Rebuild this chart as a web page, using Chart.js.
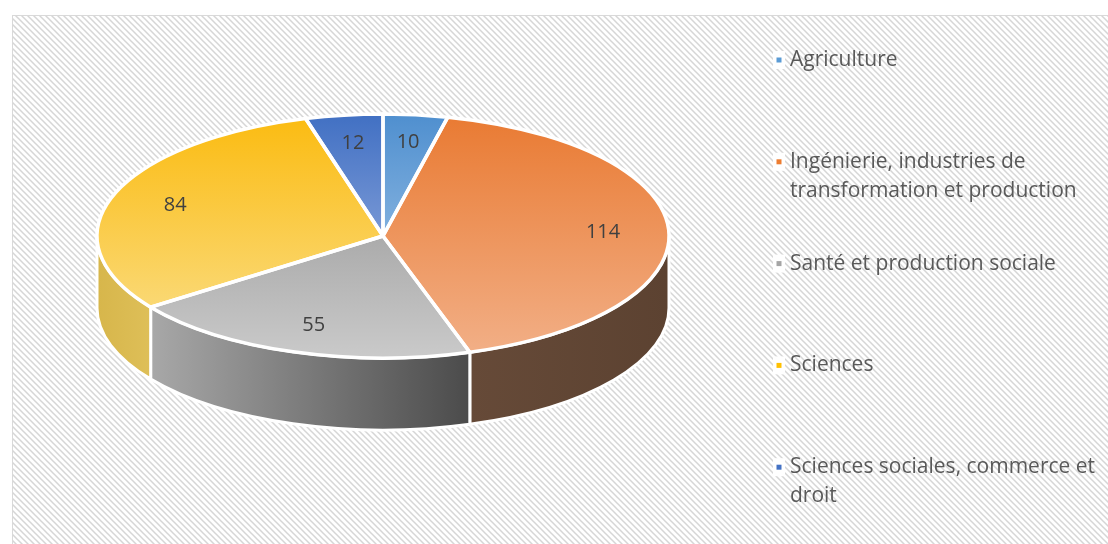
<!doctype html>
<html lang="fr">
<head>
<meta charset="utf-8">
<title>Répartition par domaine</title>
<script src="https://cdn.jsdelivr.net/npm/chart.js@4.4.1/dist/chart.umd.min.js"></script>
<style>
  html,body{margin:0;padding:0;background:#fff}
  .wrap{position:relative;width:1108px;height:544px}
</style>
</head>
<body>
<div class="wrap"><canvas id="pie"></canvas></div>
<script>
// values
const LABELS = [
  "Agriculture",
  "Ingénierie, industries de transformation et production",
  "Santé et production sociale",
  "Sciences",
  "Sciences sociales, commerce et droit",
];
const VALUES = [10, 114, 55, 84, 12];

// styles: [top of face, bottom of face] and [left of wall, right of wall]
const MARKERS = ["#5B9BD5", "#ED7D31", "#A5A5A5", "#FFC000", "#4472C4"];
const FACE = [["#4F8FCF", "#B4D2EE"], ["#E97A32", "#F2B088"], ["#8C8C8C", "#CACACA"], ["#FBBB10", "#FAE08E"], ["#4170C3", "#B0C0E8"]];
const WALL = [["#3C6E9E", "#3C6E9E"], ["#664A38", "#5C4231"], ["#A8A8A8", "#4B4B4B"], ["#D7B64B", "#DEBF58"], ["#30538F", "#30538F"]];

// tilted pie geometry on the page
const PIE = { x: 383, y: 236, rx: 286, ry: 122, depth: 72, labelAt: 0.77 };
const LEGEND = { markX: 778, textX: 790, top: 60, step: 101.8, lineHeight: 29, maxWidth: 318 };
const FONT = '"Open Sans", "Noto Sans", sans-serif';

const hatch = (() => {
  const c = document.createElement("canvas");
  c.width = 6; c.height = 6;
  const g = c.getContext("2d");
  g.fillStyle = "#fff"; g.fillRect(0, 0, 6, 6);
  g.strokeStyle = "#d6d6d6"; g.lineWidth = 1.5;
  g.beginPath();
  g.moveTo(-1, -1); g.lineTo(7, 7);
  g.moveTo(-1, 5); g.lineTo(1, 7);
  g.moveTo(5, -1); g.lineTo(7, 1);
  g.stroke();
  return c;
})();

const pt = (a, f = 1, dy = 0) => ({ x: PIE.x + PIE.rx * f * Math.cos(a), y: PIE.y + dy + PIE.ry * f * Math.sin(a) });

const background = {
  id: "background",
  beforeDraw(chart) {
    const { ctx, width, height } = chart;
    ctx.save();
    ctx.fillStyle = "#fff";
    ctx.fillRect(0, 0, width, height);
    ctx.fillStyle = ctx.createPattern(hatch, "repeat");
    ctx.fillRect(12, 15, width - 12, height - 15);
    ctx.strokeStyle = "#d9d9d9";
    ctx.lineWidth = 1;
    ctx.strokeRect(12.5, 15.5, width, height);
    ctx.restore();
  },
};

const pie3d = {
  id: "pie3d",
  beforeDatasetDraw(chart, args) {
    const ctx = chart.ctx;
    const arcs = args.meta.data;
    // front walls, only the part facing the viewer (0..PI)
    arcs.forEach((arc, i) => {
      const a1 = Math.max(arc.startAngle, 0), a2 = Math.min(arc.endAngle, Math.PI);
      if (a1 >= a2) return;
      const g = ctx.createLinearGradient(pt(a2).x, 0, pt(a1).x, 0);
      g.addColorStop(0, WALL[i][0]);
      g.addColorStop(1, WALL[i][1]);
      ctx.beginPath();
      ctx.ellipse(PIE.x, PIE.y, PIE.rx, PIE.ry, 0, a1, a2);
      ctx.ellipse(PIE.x, PIE.y + PIE.depth, PIE.rx, PIE.ry, 0, a2, a1, true);
      ctx.closePath();
      ctx.fillStyle = g;
      ctx.fill();
      ctx.strokeStyle = "#fff";
      ctx.lineWidth = 3;
      ctx.lineJoin = "round";
      ctx.stroke();
    });
    // squash the library's circle onto the tilted ellipse
    const a0 = arcs[0];
    const R = a0.outerRadius;
    ctx.save();
    ctx.translate(PIE.x, PIE.y);
    ctx.scale(PIE.rx / R, PIE.ry / R);
    ctx.translate(-a0.x, -a0.y);
  },
  afterDatasetDraw(chart, args) {
    const ctx = chart.ctx;
    ctx.restore();
    const arcs = args.meta.data;
    ctx.save();
    ctx.strokeStyle = "#fff";
    ctx.lineWidth = 3.5;
    ctx.lineJoin = "round";
    arcs.forEach((arc) => {
      ctx.beginPath();
      ctx.moveTo(PIE.x, PIE.y);
      ctx.ellipse(PIE.x, PIE.y, PIE.rx, PIE.ry, 0, arc.startAngle, arc.endAngle);
      ctx.closePath();
      ctx.stroke();
    });
    ctx.font = "20px " + FONT;
    ctx.fillStyle = "#404040";
    ctx.textAlign = "center";
    ctx.textBaseline = "middle";
    arcs.forEach((arc, i) => {
      const mid = (arc.startAngle + arc.endAngle) / 2;
      const p = pt(mid, PIE.labelAt);
      ctx.fillText(String(VALUES[i]), p.x, p.y);
    });
    ctx.restore();
  },
};

function wrap(ctx, text, max) {
  const words = text.split(" ");
  const lines = [];
  let line = "";
  for (const w of words) {
    const t = line ? line + " " + w : w;
    if (ctx.measureText(t).width > max && line) { lines.push(line); line = w; }
    else line = t;
  }
  lines.push(line);
  return lines;
}

const sideLegend = {
  id: "sideLegend",
  afterDraw(chart) {
    const ctx = chart.ctx;
    ctx.save();
    ctx.font = "21px " + FONT;
    ctx.textBaseline = "middle";
    LABELS.forEach((label, i) => {
      const y = LEGEND.top + i * LEGEND.step;
      ctx.fillStyle = "#fff";
      ctx.fillRect(LEGEND.markX - 5, y - 9, 12, 18);
      ctx.fillStyle = MARKERS[i];
      ctx.fillRect(LEGEND.markX - 1.5, y - 2.5, 5, 5);
      ctx.fillStyle = "#595959";
      wrap(ctx, label, LEGEND.maxWidth).forEach((line, j) => ctx.fillText(line, LEGEND.textX, y + j * LEGEND.lineHeight));
    });
    ctx.restore();
  },
};

function faceFill(c) {
  const area = c.chart.chartArea;
  const i = c.dataIndex;
  if (!area) return MARKERS[i];
  const g = c.chart.ctx.createLinearGradient(0, area.top, 0, area.bottom);
  g.addColorStop(0, FACE[i][0]);
  g.addColorStop(1, FACE[i][1]);
  return g;
}

new Chart(document.getElementById("pie"), {
  type: "pie",
  data: {
    labels: LABELS,
    datasets: [{ data: VALUES, backgroundColor: faceFill, borderWidth: 0, clip: false }],
  },
  options: {
    responsive: true,
    maintainAspectRatio: false,
    animation: false,
    events: [],
    plugins: { legend: { display: false }, tooltip: { enabled: false } },
  },
  plugins: [background, pie3d, sideLegend],
});
</script>
</body>
</html>
